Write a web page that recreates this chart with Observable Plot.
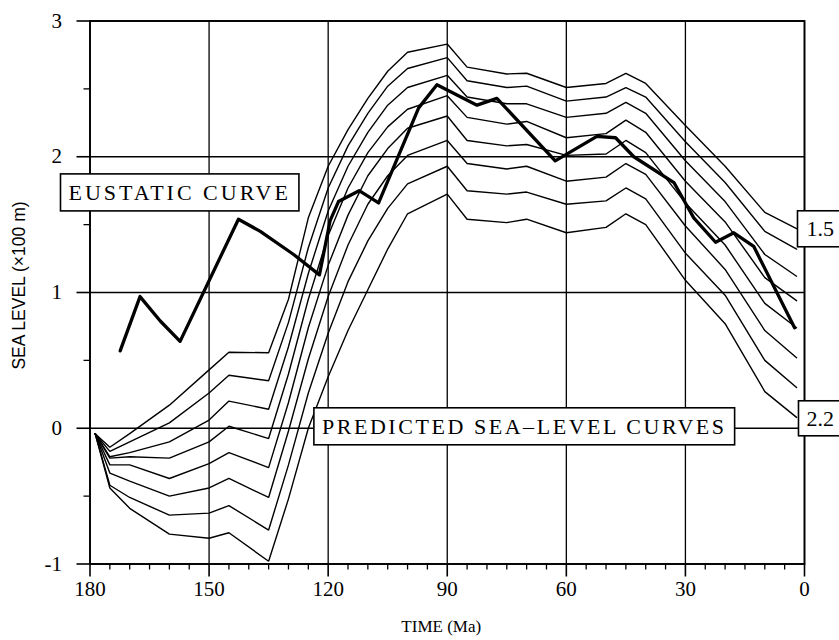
<!DOCTYPE html>
<html><head><meta charset="utf-8">
<script src="https://cdn.jsdelivr.net/npm/d3@7"></script>
<script src="https://cdn.jsdelivr.net/npm/@observablehq/plot@0.6"></script>
<style>
html,body{margin:0;padding:0;background:#fff;}
#chart{width:839px;height:640px;overflow:hidden;}
</style>
</head><body><div id="chart"></div>
<script>
// ---- data ----
const timeMa = [178.7, 175, 170, 160, 150, 145, 135, 130, 125, 120, 115, 110, 105, 100, 90, 85, 75, 70, 60, 50, 45, 40, 30, 20, 10, 2];
const curveLabels = ["1.5", "1.6", "1.7", "1.8", "1.9", "2.0", "2.1", "2.2"];
const curve15 = [-0.04, -0.14, -0.04, 0.17, 0.43, 0.56, 0.556, 0.95, 1.55, 1.93, 2.20, 2.43, 2.63, 2.77, 2.83, 2.66, 2.61, 2.615, 2.51, 2.54, 2.615, 2.54, 2.23, 1.93, 1.59, 1.47];
const curve16 = [-0.04, -0.17, -0.10, 0.04, 0.26, 0.39, 0.35, 0.78, 1.33, 1.77, 2.08, 2.32, 2.52, 2.65, 2.73, 2.56, 2.51, 2.52, 2.41, 2.44, 2.51, 2.44, 2.11, 1.81, 1.45, 1.32];
const curve17 = [-0.04, -0.21, -0.18, -0.10, 0.06, 0.20, 0.14, 0.60, 1.14, 1.60, 1.93, 2.18, 2.38, 2.51, 2.60, 2.44, 2.39, 2.39, 2.29, 2.32, 2.40, 2.32, 1.97, 1.67, 1.28, 1.12];
const curve18 = [-0.04, -0.22, -0.21, -0.22, -0.10, 0.015, -0.076, 0.40, 0.95, 1.42, 1.77, 2.03, 2.22, 2.35, 2.45, 2.29, 2.24, 2.26, 2.14, 2.17, 2.27, 2.18, 1.82, 1.52, 1.11, 0.94];
const curve19 = [-0.04, -0.27, -0.27, -0.37, -0.26, -0.18, -0.29, 0.19, 0.74, 1.20, 1.57, 1.86, 2.06, 2.21, 2.30, 2.12, 2.08, 2.09, 2.01, 2.02, 2.12, 2.03, 1.66, 1.35, 0.92, 0.74];
const curve20 = [-0.04, -0.33, -0.39, -0.50, -0.44, -0.37, -0.51, -0.02, 0.51, 0.97, 1.35, 1.65, 1.86, 2.01, 2.12, 1.95, 1.91, 1.93, 1.82, 1.85, 1.95, 1.87, 1.49, 1.17, 0.72, 0.52];
const curve21 = [-0.04, -0.42, -0.51, -0.64, -0.625, -0.57, -0.75, -0.27, 0.26, 0.70, 1.08, 1.38, 1.62, 1.80, 1.93, 1.75, 1.725, 1.74, 1.65, 1.675, 1.77, 1.69, 1.29, 0.98, 0.50, 0.30];
const curve22 = [-0.04, -0.44, -0.59, -0.78, -0.81, -0.77, -0.98, -0.52, 0.0, 0.38, 0.72, 1.02, 1.32, 1.58, 1.725, 1.54, 1.515, 1.54, 1.44, 1.48, 1.58, 1.50, 1.09, 0.77, 0.27, 0.08];

const eustaticTime  = [172.4, 167.4, 162.3, 157.3, 142.6, 137.1, 128.7, 122.2, 119.5, 117.4, 112.2, 107.3, 97.2, 92.6, 82.5, 77.5, 62.8, 52.3, 47.6, 43.0, 32.9, 27.9, 22.4, 17.8, 12.8, 2.5];
const eustaticLevel = [0.57, 0.97, 0.79, 0.64, 1.54, 1.45, 1.28, 1.13, 1.53, 1.67, 1.75, 1.66, 2.36, 2.53, 2.38, 2.43, 1.97, 2.15, 2.14, 2.00, 1.81, 1.55, 1.37, 1.44, 1.34, 0.74];

const xMajorTicks = [180, 150, 120, 90, 60, 30, 0];
const xMinorTicks = [175, 170, 165, 160, 155, 145, 140, 135, 130, 125, 115, 110, 105, 100, 95, 85, 80, 75, 70, 65, 55, 50, 45, 40, 35, 25, 20, 15, 10, 5];
const yMajorTicks = [-1, 0, 1, 2, 3];
const yMinorTicks = [-0.5, 0.5, 1.5, 2.5];

const xTitle = "TIME (Ma)";
const yTitle = "SEA LEVEL (\u00d7100 m)";

const boxLabelText  = ["EUSTATIC CURVE", "PREDICTED SEA\u2013LEVEL CURVES"];
const boxLabelTime  = [157.4, 70.6];
const boxLabelLevel = [1.734, 0.011];
const endLabelText  = ["1.5", "2.2"];
const endLabelTime  = [-0.5, -0.5];
const endLabelLevel = [1.466, 0.07];

// ---- build tables ----
const series = [curve15, curve16, curve17, curve18, curve19, curve20, curve21, curve22];
const predicted = series.flatMap((ys, i) => ys.map((v, j) => ({curve: curveLabels[i], time: timeMa[j], level: v})));
const eustatic = eustaticTime.map((t, i) => ({time: t, level: eustaticLevel[i]}));
const boxLabels = boxLabelText.map((t, i) => ({text: t, time: boxLabelTime[i], level: boxLabelLevel[i]}));
const endLabels = endLabelText.map((t, i) => ({text: t, time: endLabelTime[i], level: endLabelLevel[i]}));

const serif = "'Liberation Serif', 'Times New Roman', Times, serif";
const sans = "'Liberation Sans', Arial, Helvetica, sans-serif";

const svg = Plot.plot({
  width: 839,
  height: 640,
  marginLeft: 89.5,
  marginRight: 35,
  marginTop: 20.5,
  marginBottom: 76.5,
  style: {background: "#fff", color: "#000", overflow: "visible"},
  x: {domain: [180, 0]},
  y: {domain: [-1, 3]},
  marks: [
    Plot.gridX(xMajorTicks, {stroke: "#000", strokeOpacity: 1, strokeWidth: 1.3}),
    Plot.gridY(yMajorTicks, {stroke: "#000", strokeOpacity: 1, strokeWidth: 1.3}),
    Plot.line(predicted, {x: "time", y: "level", z: "curve", stroke: "#000", strokeWidth: 1.4, strokeLinejoin: "miter"}),
    Plot.line(eustatic, {x: "time", y: "level", stroke: "#000", strokeWidth: 3.3, strokeLinejoin: "round"}),
    Plot.frame({stroke: "#000", strokeWidth: 1.8}),
    Plot.axisX(xMajorTicks, {tickSize: 13, tickPadding: 4, fontSize: 21, fontFamily: serif, label: null, tickFormat: d => String(d), strokeWidth: 1.6}),
    Plot.axisX(xMinorTicks, {tickSize: 6, label: null, tickFormat: () => "", strokeWidth: 1.3}),
    Plot.axisY(yMajorTicks, {tickSize: 13, tickPadding: 15, fontSize: 21, fontFamily: serif, label: null, tickFormat: d => String(d), strokeWidth: 1.6}),
    Plot.axisY(yMinorTicks, {tickSize: 6, label: null, tickFormat: () => "", strokeWidth: 1.3}),
    Plot.text([xTitle], {frameAnchor: "bottom", textAnchor: "middle", dx: -6, dy: 68, fontSize: 17, fontFamily: serif, fill: "#000"}),
    Plot.text([yTitle], {frameAnchor: "left", textAnchor: "middle", rotate: -90, dx: -71, dy: -7, fontSize: 17.5, fontFamily: sans, fill: "#000"}),
    Plot.text(boxLabels, {x: "time", y: "level", text: "text", textAnchor: "middle", fontSize: 22, fontFamily: serif, fill: "#000"}),
    Plot.text(endLabels, {x: "time", y: "level", text: "text", textAnchor: "start", fontSize: 22, fontFamily: serif, fill: "#000"})
  ]
});

document.getElementById("chart").appendChild(svg);

// enforce fonts on every text element
const S = d3.select(svg);
S.selectAll("text").each(function () {
  const t = this.textContent;
  const sel = d3.select(this);
  if (t === yTitle) {
    sel.attr("font-family", sans).style("font-family", sans).style("font-size", "17.5px");
  } else if (t === xTitle) {
    sel.attr("font-family", serif).style("font-family", serif).style("font-size", "17px");
  } else if (boxLabelText.includes(t) || endLabelText.includes(t)) {
    sel.attr("font-family", serif).style("font-family", serif).style("font-size", "22px");
  } else {
    sel.attr("font-family", serif).style("font-family", serif).style("font-size", "21px");
  }
});

// white framed boxes behind the annotation labels
const boxPad = {"EUSTATIC CURVE": [8, 6, 3.0], "PREDICTED SEA\u2013LEVEL CURVES": [8, 6, 2.55], "1.5": [9, 5.5, 0], "2.2": [8, 5, 0]};
S.selectAll("text").each(function () {
  const t = this.textContent;
  if (!(t in boxPad)) return;
  const [px, py, ls] = boxPad[t];
  if (ls) d3.select(this).style("letter-spacing", ls + "px");
  const bb = this.getBBox();
  const tr = this.getAttribute("transform");
  const rect = document.createElementNS("http://www.w3.org/2000/svg", "rect");
  rect.setAttribute("x", bb.x - px);
  rect.setAttribute("y", bb.y - py);
  rect.setAttribute("width", bb.width + 2 * px);
  rect.setAttribute("height", bb.height + 2 * py);
  rect.setAttribute("fill", "#fff");
  rect.setAttribute("stroke", "#000");
  rect.setAttribute("stroke-width", "1.6");
  if (tr) rect.setAttribute("transform", tr);
  this.parentNode.insertBefore(rect, this);
});
</script>
</body></html>
